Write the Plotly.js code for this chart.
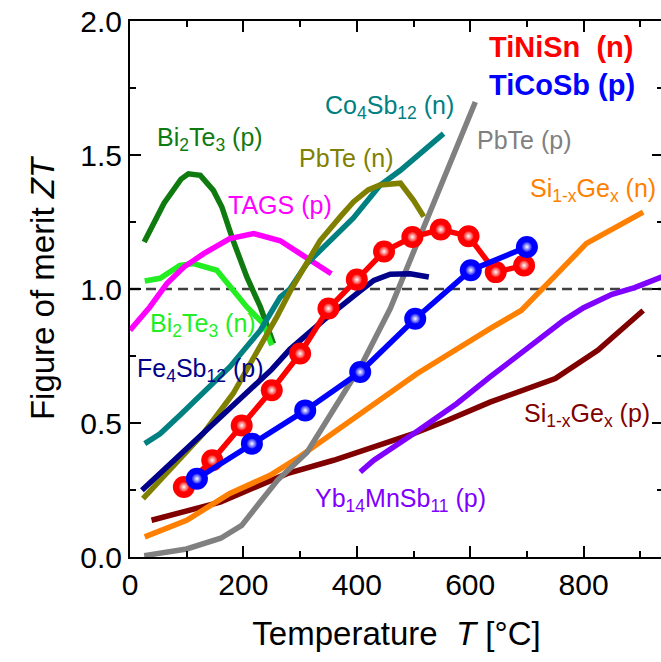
<!DOCTYPE html>
<html>
<head>
<meta charset="utf-8">
<script src="https://cdn.plot.ly/plotly-3.0.1.min.js"></script>
<style>
html,body{margin:0;padding:0;overflow:hidden;background:#fff;}
#chart{width:664px;height:662px;}
</style>
</head>
<body>
<div id="chart"></div>
<script>
// ---- data (temperature in °C, figure of merit ZT) ----
const bi2te3p_T  = [25, 60, 90, 103, 124, 147, 162, 182, 206, 230, 253];
const bi2te3p_ZT = [1.175, 1.32, 1.41, 1.43, 1.424, 1.368, 1.306, 1.18, 1.045, 0.933, 0.796];

const bi2te3n_T  = [26, 53, 88, 112, 153, 176, 206, 235, 250];
const bi2te3n_ZT = [1.03, 1.04, 1.088, 1.095, 1.07, 1.007, 0.933, 0.871, 0.79];

const tags_T  = [0, 35, 65, 95, 130, 176, 218, 265, 300, 355];
const tags_ZT = [0.846, 0.933, 1.02, 1.082, 1.132, 1.188, 1.207, 1.18, 1.132, 1.057];

const co4sb12_T  = [26, 53, 88, 129, 176, 230, 265, 282, 312, 394, 441, 477, 553];
const co4sb12_ZT = [0.423, 0.46, 0.529, 0.61, 0.709, 0.846, 0.97, 1.0, 1.095, 1.265, 1.387, 1.443, 1.58];

const pbten_T  = [23, 70, 129, 182, 230, 259, 282, 335, 371, 394, 420, 441, 477, 500, 518];
const pbten_ZT = [0.218, 0.324, 0.46, 0.61, 0.784, 0.896, 0.99, 1.18, 1.27, 1.325, 1.37, 1.388, 1.395, 1.331, 1.27];

const fe4sb12_T  = [21, 70, 130, 190, 250, 282, 341, 400, 430, 459, 494, 527];
const fe4sb12_ZT = [0.249, 0.345, 0.465, 0.585, 0.70, 0.775, 0.883, 0.983, 1.032, 1.055, 1.057, 1.045];

const pbtep_T  = [25, 100, 160, 197, 225, 260, 312, 360, 409, 459, 524, 609];
const pbtep_ZT = [0.005, 0.03, 0.07, 0.118, 0.193, 0.286, 0.39, 0.55, 0.72, 0.927, 1.256, 1.698];

const sigen_T  = [26, 100, 176, 247, 294, 388, 441, 506, 635, 690, 750, 805, 905];
const sigen_ZT = [0.075, 0.137, 0.237, 0.305, 0.367, 0.507, 0.585, 0.684, 0.852, 0.92, 1.05, 1.17, 1.287];

const sigep_T  = [38, 110, 159, 200, 277, 359, 435, 500, 560, 635, 750, 825, 905];
const sigep_ZT = [0.137, 0.18, 0.205, 0.242, 0.311, 0.361, 0.415, 0.46, 0.51, 0.578, 0.666, 0.771, 0.92];

const yb14_T  = [406, 430, 500, 576, 635, 706, 765, 800, 850, 890, 940];
const yb14_ZT = [0.317, 0.361, 0.46, 0.572, 0.672, 0.784, 0.883, 0.93, 0.98, 1.005, 1.047];

const tinisn_T  = [95, 145, 197, 250, 300, 350, 400, 448, 498, 548, 597, 645, 695];
const tinisn_ZT = [0.261, 0.361, 0.491, 0.622, 0.759, 0.927, 1.035, 1.14, 1.194, 1.222, 1.197, 1.063, 1.088];

const ticosb_T  = [118, 215, 309, 406, 503, 601, 700];
const ticosb_ZT = [0.292, 0.423, 0.547, 0.69, 0.889, 1.07, 1.157];

const ref_T  = [0, 940];
const ref_ZT = [1.0, 1.0];

const xTicks = [0, 200, 400, 600, 800];
const yTicks = [0.0, 0.5, 1.0, 1.5, 2.0];

// ---- traces ----
function line(x, y, color, w) {
  return {x: x, y: y, mode: 'lines', type: 'scatter', hoverinfo: 'skip',
          line: {color: color, width: w || 5.5, shape: 'linear'}};
}
const traces = [
  {x: ref_T, y: ref_ZT, mode: 'lines', type: 'scatter',
   line: {color: '#404040', width: 2.5, dash: '10px,6px'}},
  line(bi2te3p_T, bi2te3p_ZT, '#0f7a0f'),
  line(bi2te3n_T, bi2te3n_ZT, '#22ee22'),
  line(tags_T, tags_ZT, '#ff00ff'),
  line(co4sb12_T, co4sb12_ZT, '#008080'),
  line(pbten_T, pbten_ZT, '#808000'),
  line(sigep_T, sigep_ZT, '#800000'),
  line(sigen_T, sigen_ZT, '#ff8000'),
  line(yb14_T, yb14_ZT, '#8000ff'),
  line(pbtep_T, pbtep_ZT, '#808080'),
  line(fe4sb12_T, fe4sb12_ZT, '#00008b'),
  {x: tinisn_T, y: tinisn_ZT, mode: 'lines+markers', type: 'scatter',
   line: {color: '#ff0000', width: 5.5},
   marker: {color: '#ff0000', size: 22, line: {width: 0}}},
  {x: tinisn_T, y: tinisn_ZT, mode: 'markers', type: 'scatter',
   marker: {color: '#ff2020', size: 10, line: {width: 0},
            gradient: {type: 'radial', color: '#ffffff'}}},
  {x: ticosb_T, y: ticosb_ZT, mode: 'lines+markers', type: 'scatter',
   line: {color: '#0000ff', width: 5.5},
   marker: {color: '#0000ff', size: 22, line: {width: 0}}},
  {x: ticosb_T, y: ticosb_ZT, mode: 'markers', type: 'scatter',
   marker: {color: '#2020ff', size: 10, line: {width: 0},
            gradient: {type: 'radial', color: '#ffffff'}}}
];

const FONT = 'Liberation Sans, Arial, sans-serif';
function lab(x, y, text, color, size, bold) {
  return {x: x, y: y, xref: 'x', yref: 'y', text: bold ? '<b>' + text + '</b>' : text,
          showarrow: false, xanchor: 'left', yanchor: 'middle',
          font: {family: FONT, size: size || 25, color: color}};
}

const layout = {
  width: 664, height: 662,
  margin: {l: 130, r: 1, t: 21, b: 105},
  paper_bgcolor: '#ffffff', plot_bgcolor: '#ffffff',
  showlegend: false,
  font: {family: FONT, color: '#000'},
  xaxis: {
    range: [0, 940], tickvals: xTicks, ticktext: xTicks.map(String),
    ticks: 'inside', ticklen: 11, tickwidth: 2, tickcolor: '#000',
    minor: {dtick: 100, tick0: 0, ticks: 'inside', ticklen: 6, tickwidth: 2, tickcolor: '#000'},
    showline: true, linewidth: 2, linecolor: '#000', mirror: 'ticks',
    showgrid: false, zeroline: false,
    tickfont: {family: FONT, size: 30, color: '#000'},
    title: {text: 'Temperature  <i>T</i> [°C]', font: {family: FONT, size: 33, color: '#000'}, standoff: 22}
  },
  yaxis: {
    range: [0, 2], tickvals: yTicks, ticktext: yTicks.map(v => v.toFixed(1)),
    ticks: 'inside', ticklen: 11, tickwidth: 2, tickcolor: '#000',
    minor: {dtick: 0.25, tick0: 0, ticks: 'inside', ticklen: 6, tickwidth: 2, tickcolor: '#000'},
    showline: true, linewidth: 2, linecolor: '#000', mirror: 'ticks',
    showgrid: false, zeroline: false,
    tickfont: {family: FONT, size: 30, color: '#000'},
    title: {text: 'Figure of merit <i>ZT</i>', font: {family: FONT, size: 33, color: '#000'}, standoff: 16}
  },
  annotations: [
    lab(630, 1.903, 'TiNiSn&nbsp;&nbsp;(n)', '#ff0000', 29, true),
    lab(630, 1.760, 'TiCoSb (p)', '#0000ff', 29, true),
    lab(44, 1.56, 'Bi<sub>2</sub>Te<sub>3</sub> (p)', '#0f7a0f'),
    lab(170, 1.312, 'TAGS (p)', '#ff00ff'),
    lab(294, 1.487, 'PbTe (n)', '#808000'),
    lab(341, 1.68, 'Co<sub>4</sub>Sb<sub>12</sub> (n)', '#008080'),
    lab(609, 1.555, 'PbTe (p)', '#808080'),
    lab(702, 1.37, 'Si<sub>1-x</sub>Ge<sub>x</sub> (n)', '#ff8000'),
    lab(32, 0.866, 'Bi<sub>2</sub>Te<sub>3</sub> (n)', '#22ee22'),
    lab(9, 0.698, 'Fe<sub>4</sub>Sb<sub>12</sub> (p)', '#00008b'),
    lab(322, 0.213, 'Yb<sub>14</sub>MnSb<sub>11</sub> (p)', '#8000ff'),
    lab(691, 0.53, 'Si<sub>1-x</sub>Ge<sub>x</sub> (p)', '#800000')
  ]
};

Plotly.newPlot('chart', traces, layout, {displayModeBar: false, staticPlot: true});
</script>
</body>
</html>
